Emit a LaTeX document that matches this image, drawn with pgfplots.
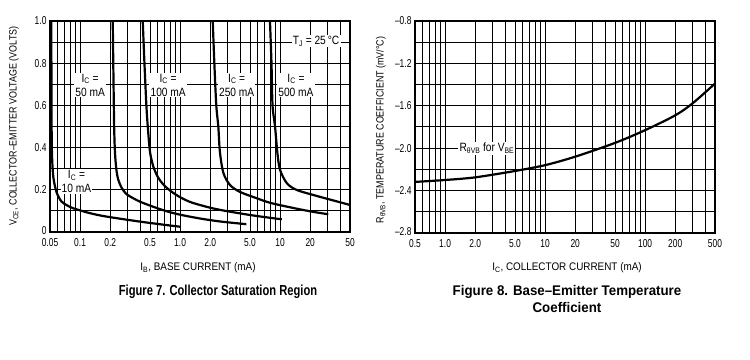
\documentclass[border=0pt]{standalone}
\usepackage{fontspec}
\setmainfont{Liberation Sans}[FakeStretch=0.85]
\newfontfamily\ftick{Liberation Sans}[FakeStretch=0.74]
\newfontfamily\ftitle{Liberation Sans}[FakeStretch=0.9]
\newfontfamily\fcapA{Liberation Sans}[FakeStretch=0.77]
\newfontfamily\fcapB{Liberation Sans}[FakeStretch=0.95]
\usepackage{pgfplots}
\pgfplotsset{compat=1.18}
\tikzset{dslbl/.style={fill=white, align=center, inner sep=1.2pt, font=\fontsize{12}{14}\selectfont}}
\begin{document}
\begin{tikzpicture}[x=1pt,y=1pt]
\path[use as bounding box] (0,0) rectangle (750,359);

% ---------------- Figure 7 ----------------
\begin{axis}[
  xmode=log,
  scale only axis,
  width=300pt, height=211pt,
  at={(50pt,127pt)}, anchor=south west,
  axis line style={line width=1.3pt},
  grid=both,
  major grid style={black, line width=1pt},
  minor grid style={black, line width=1pt},
  major tick length=0pt,
  minor tick length=0pt,
  tick label style={font=\ftick\fontsize{11.4}{12}\selectfont},
  xticklabel style={yshift=-3.5pt},
  xmin=0.05, xmax=50, ymin=0, ymax=1.0,
  xtick={0.05,0.1,0.2,0.5,1,2,5,10,20,50},
  xticklabels={0.05,0.1,0.2,0.5,1.0,2.0,5.0,10,20,50},
  minor xtick={0.06,0.07,0.08,0.09,0.3,0.4,0.6,0.7,0.8,0.9,3,4,6,7,8,9,30,40},
  ytick={0,0.2,0.4,0.6,0.8,1.0},
  yticklabels={\raisebox{2pt}{0},0.2,0.4,0.6,0.8,1.0},
  minor ytick={0.1,0.3,0.5,0.7,0.9},
]
% I_C = 10 mA
\addplot[black, line width=2.2pt, smooth] coordinates {
 (0.0515,1.0) (0.0518,0.6) (0.052,0.45) (0.0525,0.35) (0.054,0.26) (0.058,0.19)
 (0.065,0.145) (0.075,0.125) (0.086,0.112) (0.126,0.089) (0.184,0.073)
 (0.40,0.049) (0.7,0.034) (1.0,0.025)};
% I_C = 50 mA
\addplot[black, line width=2.2pt, smooth] coordinates {
 (0.212,1.0) (0.216,0.7) (0.219,0.5) (0.223,0.38) (0.23,0.30) (0.24,0.25)
 (0.26,0.21) (0.29,0.18) (0.34,0.16) (0.40,0.143) (0.55,0.118) (0.75,0.097)
 (1.0,0.082) (1.58,0.064) (2.5,0.05) (4.6,0.037)};
% I_C = 100 mA
\addplot[black, line width=2.2pt, smooth] coordinates {
 (0.423,1.0) (0.44,0.8) (0.46,0.6) (0.475,0.5) (0.5,0.38) (0.54,0.31)
 (0.6,0.26) (0.68,0.225) (0.8,0.195) (1.0,0.165) (1.3,0.14) (2.0,0.115)
 (2.7,0.102) (4.0,0.088) (5.8,0.076) (10.4,0.060)};
% I_C = 250 mA
\addplot[black, line width=2.2pt, smooth] coordinates {
 (2.12,1.0) (2.2,0.8) (2.3,0.6) (2.41,0.5) (2.5,0.38) (2.71,0.28) (3.15,0.223)
 (3.97,0.19) (5.83,0.16) (8,0.138) (12.6,0.117) (20,0.098) (30.3,0.084)};
% I_C = 500 mA
\addplot[black, line width=2.2pt, smooth] coordinates {
 (7.92,1.0) (8.2,0.8) (8.4,0.6) (8.9,0.5) (9.4,0.373) (10,0.294) (11.7,0.231)
 (14.7,0.199) (23.2,0.171) (35,0.148) (50,0.128)};
\node[dslbl] at (axis cs:0.092,0.238) {I\textsubscript{C} =\\10 mA};
\node[dslbl] at (axis cs:0.126,0.697) {I\textsubscript{C} =\\50 mA};
\node[dslbl] at (axis cs:0.76,0.697) {I\textsubscript{C} =\\100 mA};
\node[dslbl] at (axis cs:3.68,0.697) {I\textsubscript{C} =\\250 mA};
\node[dslbl] at (axis cs:14.4,0.697) {I\textsubscript{C} =\\500 mA};
\node[dslbl] at (axis cs:22.9,0.905) {T\textsubscript{J} = 25\,°C};
\end{axis}

% ---------------- Figure 8 ----------------
\begin{axis}[
  xmode=log,
  scale only axis,
  width=300pt, height=212pt,
  at={(415pt,126pt)}, anchor=south west,
  axis line style={line width=1.3pt},
  grid=both,
  major grid style={black, line width=1pt},
  minor grid style={black, line width=1pt},
  major tick length=0pt,
  minor tick length=0pt,
  tick label style={font=\ftick\fontsize{11.4}{12}\selectfont},
  xticklabel style={yshift=-3.5pt},
  xmin=0.5, xmax=500, ymin=-2.8, ymax=-0.8,
  xtick={0.5,1,2,5,10,20,50,100,200,500},
  xticklabels={0.5,1.0,2.0,5.0,10,20,50,100,200,500},
  minor xtick={0.6,0.7,0.8,0.9,3,4,6,7,8,9,30,40,60,70,80,90,300,400},
  ytick={-2.8,-2.4,-2.0,-1.6,-1.2,-0.8},
  yticklabels={\raisebox{2pt}{–2.8},–2.4,–2.0,–1.6,–1.2,–0.8},
  minor ytick={-2.6,-2.2,-1.8,-1.4,-1.0},
]
\addplot[black, line width=2.2pt, smooth] coordinates {
 (0.5,-2.318) (1,-2.30) (2,-2.275) (5,-2.215) (10,-2.16) (20,-2.08)
 (50,-1.95) (100,-1.83) (200,-1.69) (300,-1.575) (500,-1.39)};
\node[dslbl] at (axis cs:2.62,-2.0) {R\textsubscript{θVB} for V\textsubscript{BE}};
\end{axis}

% ---------------- axis titles and captions ----------------
\node[rotate=90, font=\fontsize{10.5}{11}\selectfont] at (14,233)
  {V\textsubscript{CE}, COLLECTOR–EMITTER VOLTAGE (VOLTS)};
\node[rotate=90, font=\fontsize{10.5}{11}\selectfont] at (381,229)
  {R\textsubscript{θVB}, TEMPERATURE COEFFICIENT (mV/°C)};
\node[font=\ftitle\fontsize{11}{12}\selectfont] at (198,91) {I\textsubscript{B}, BASE CURRENT (mA)};
\node[font=\ftitle\fontsize{11}{12}\selectfont] at (567,91) {I\textsubscript{C}, COLLECTOR CURRENT (mA)};
\node[font=\fcapA\bfseries\fontsize{14.5}{16}\selectfont] at (218,67) {Figure 7. Collector Saturation Region};
\node[font=\fcapB\bfseries\fontsize{14}{16.7}\selectfont, align=center] at (567,60)
  {Figure 8. Base–Emitter Temperature\\Coefficient};
\end{tikzpicture}
\end{document}
